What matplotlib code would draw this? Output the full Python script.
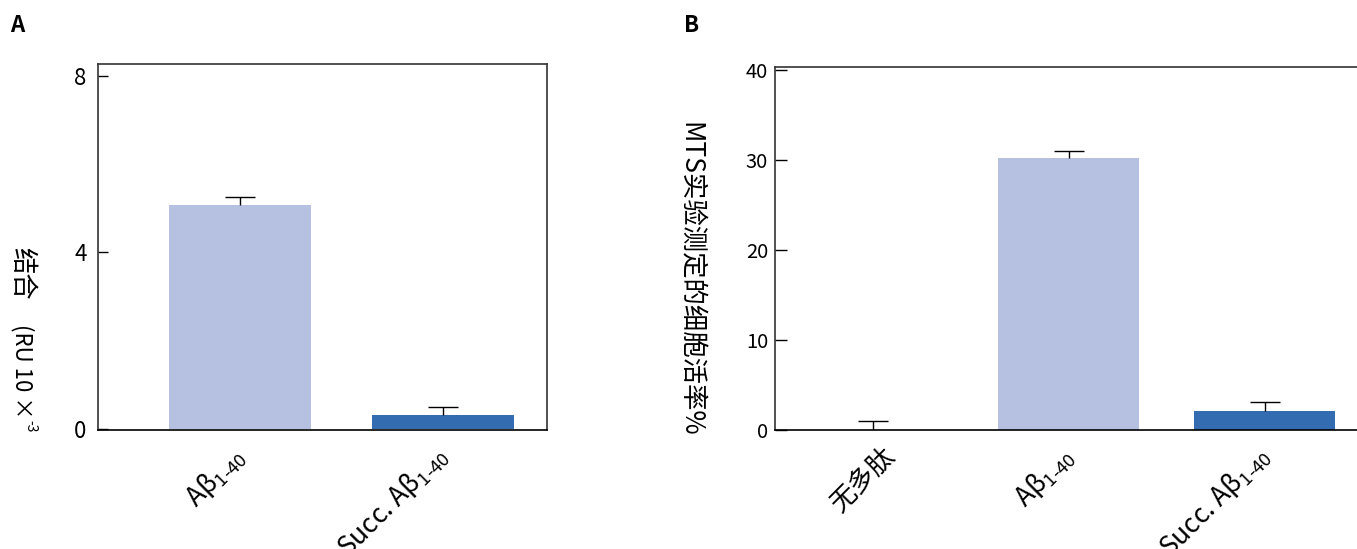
import matplotlib
matplotlib.use("Agg")
import matplotlib.pyplot as plt
from matplotlib.transforms import ScaledTranslation

plt.rcParams['font.family'] = ['Noto Sans CJK SC', 'DejaVu Sans']
plt.rcParams['mathtext.fontset'] = 'custom'
plt.rcParams['mathtext.rm'] = 'Noto Sans CJK SC'
plt.rcParams['mathtext.it'] = 'Noto Sans CJK SC'

# ---- data ----
a_categories = [r"A$\mathrm{\beta}_{\mathrm{1\text{-}40}}$", r"Succ. A$\mathrm{\beta}_{\mathrm{1\text{-}40}}$"]
a_values = [5.06, 0.31]
a_errors = [0.20, 0.17]
a_ticks = [0, 4, 8]

b_categories = ["无多肽", r"A$\mathrm{\beta}_{\mathrm{1\text{-}40}}$", r"Succ. A$\mathrm{\beta}_{\mathrm{1\text{-}40}}$"]
b_values = [0.0, 30.2, 2.06]
b_errors = [0.95, 0.75, 0.97]
b_ticks = [0, 10, 20, 30, 40]

light = "#b6c1e2"
dark = "#346cb2"
a_colors = [light, dark]
b_colors = [light, light, dark]

W, H = 1357, 549
fig = plt.figure(figsize=(W / 100, H / 100), dpi=100)

def frac(l, t, r, b):
    return [l / W, (H - b) / H, (r - l) / W, (b - t) / H]

spine_col = "#333333"

def draw_bars(ax, values, errors, colors, width):
    x = list(range(len(values)))
    ax.bar(x, values, width=width, color=colors, zorder=2)
    tops = [v + e for v, e in zip(values, errors)]
    ax.vlines(x, values, tops, colors='black', linewidth=1.0, zorder=3)
    ax.plot(x, tops, linestyle='none', marker='_', markersize=21,
            markeredgewidth=1.0, color='black', zorder=3)
    return x

# ---- panel A ----
axA = fig.add_axes(frac(97.7, 64, 546.7, 430))
xa = draw_bars(axA, a_values, a_errors, a_colors, 0.70)
axA.set_xlim(-0.70, 1.51)
axA.set_ylim(-0.034, 8.27)
axA.set_yticks(a_ticks)
axA.tick_params(axis='y', direction='in', length=7.5, width=1.0, labelsize=16, pad=8)
axA.set_xticks(xa)
axA.set_xticklabels(a_categories)
axA.tick_params(axis='x', length=0, labelsize=19, pad=8)
for s in axA.spines.values():
    s.set_color(spine_col)
    s.set_linewidth(1.2)
axA.spines['bottom'].set_color('black')

# ---- panel B ----
axB = fig.add_axes(frac(775, 67, 1357, 430))
xb = draw_bars(axB, b_values, b_errors, b_colors, 0.72)
axB.set_xlim(-0.5, 2.47)
axB.set_ylim(-0.05, 40.33)
axB.set_yticks(b_ticks)
axB.tick_params(axis='y', direction='in', length=8.5, width=1.0, labelsize=14.5, pad=5)
axB.set_xticks(xb)
axB.set_xticklabels(b_categories)
axB.tick_params(axis='x', length=0, labelsize=19, pad=8)
for s in axB.spines.values():
    s.set_color(spine_col)
    s.set_linewidth(1.2)
axB.spines['right'].set_visible(False)
axB.spines['bottom'].set_color('black')

for ax in (axA, axB):
    for lab in ax.get_xticklabels():
        lab.set_rotation(45)
        lab.set_ha('right')
        lab.set_va('top')
        lab.set_rotation_mode('anchor')
        dx = -10
        if lab.get_text() == "无多肽":
            dx = 8
        lab.set_transform(lab.get_transform() + ScaledTranslation(dx / 100, 0, fig.dpi_scale_trans))

# ---- labels ----
fig.text(10 / W, 1 - 25 / H, "A", fontsize=16, fontweight='bold', ha='left', va='center')
fig.text(684 / W, 1 - 25 / H, "B", fontsize=16, fontweight='bold', ha='left', va='center')

fig.text(22 / W, 1 - 247 / H, "结合", fontsize=19, rotation=-90, ha='center', va='top')
fig.text(22 / W, 1 - 324 / H, "(RU 10 ×", fontsize=16, rotation=-90, ha='center', va='top')
fig.text(30 / W, 1 - 420 / H, "-3", fontsize=10, rotation=-90, ha='center', va='top')

fig.text(689 / W, 1 - 122 / H, "MTS实验测定的细胞活率%", fontsize=19, rotation=-90,
         ha='center', va='top')

fig.savefig("out.png", dpi=100)
